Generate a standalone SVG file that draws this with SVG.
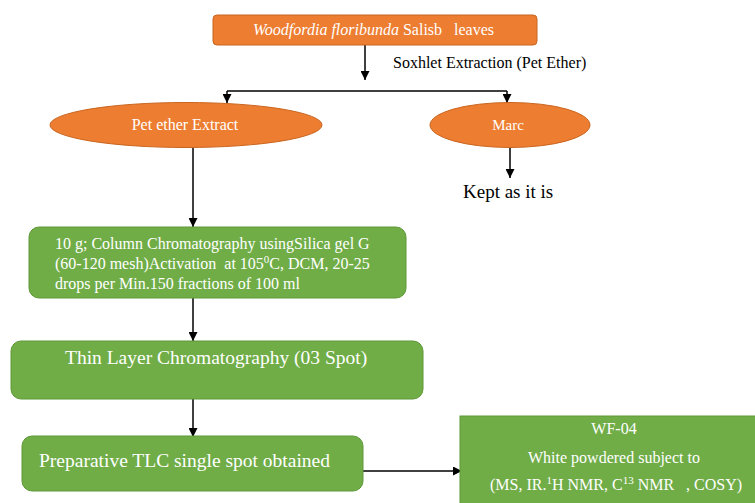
<svg xmlns="http://www.w3.org/2000/svg" width="755" height="503" viewBox="0 0 755 503">
<style>
.or{fill:#ED7D31;stroke:#C9651F;stroke-width:1}
.gr{fill:#70AD47;stroke:#5E9838;stroke-width:1}
.wt{fill:#FFFFFF;font-family:"Liberation Serif","Times New Roman",serif}
.bk{fill:#000000;font-family:"Liberation Serif","Times New Roman",serif}
.ln{stroke:#000;stroke-width:1.5;fill:none}
</style>
<defs>
<marker id="ahb" viewBox="0 0 10 10" refX="10" refY="5" markerWidth="9" markerHeight="9" markerUnits="userSpaceOnUse" orient="auto">
<path d="M0,0 L10,5 L0,10 z" fill="#000"/>
</marker>
</defs>
<rect width="755" height="503" fill="#FFFFFF"/>
<g id="connectors">
<path class="ln" d="M365,45 V80" marker-end="url(#ahb)"/>
<path class="ln" d="M227,91 H507"/>
<path class="ln" d="M227,91 V103" marker-end="url(#ahb)"/>
<path class="ln" d="M507,91 V103" marker-end="url(#ahb)"/>
<path class="ln" d="M510,148 V178" marker-end="url(#ahb)"/>
<path class="ln" d="M193,148 V227" marker-end="url(#ahb)"/>
<path class="ln" d="M193,298 V341" marker-end="url(#ahb)"/>
<path class="ln" d="M193,399 V437" marker-end="url(#ahb)"/>
<path class="ln" d="M363,471 H462" marker-end="url(#ahb)"/>
<text class="bk" x="393" y="68" font-size="16">Soxhlet Extraction (Pet Ether)</text>
</g>
<g id="n-leaves">
<rect class="or" x="213" y="15" width="324" height="30" rx="4"/>
<text class="wt" x="253" y="35" font-size="16" xml:space="preserve"><tspan font-style="italic">Woodfordia floribunda</tspan> Salisb   leaves</text>
</g>
<g id="n-pet">
<ellipse class="or" cx="186" cy="125" rx="136" ry="22.5"/>
<text class="wt" x="185" y="130" font-size="16" text-anchor="middle">Pet ether Extract</text>
</g>
<g id="n-marc">
<ellipse class="or" cx="510" cy="125" rx="80" ry="22.5"/>
<text class="wt" x="508" y="130" font-size="15" text-anchor="middle">Marc</text>
</g>
<g id="n-kept">
<text class="bk" x="463" y="198" font-size="19">Kept as it is</text>
</g>
<g id="n-column">
<rect class="gr" x="29" y="227" width="377" height="71" rx="10"/>
<text class="wt" font-size="16" xml:space="preserve"><tspan x="55" y="249">10 g; Column Chromatography usingSilica gel G</tspan><tspan x="55" y="269">(60-120 mesh)Activation  at 105</tspan><tspan font-size="11" dy="-6">0</tspan><tspan dy="6">C, DCM, 20-25</tspan><tspan x="55" y="289">drops per Min.150 fractions of 100 ml</tspan></text>
</g>
<g id="n-tlc">
<rect class="gr" x="11" y="341" width="412" height="58" rx="10"/>
<text class="wt" x="65" y="364" font-size="19.5">Thin Layer Chromatography (03 Spot)</text>
</g>
<g id="n-prep">
<rect class="gr" x="22" y="436" width="341" height="55" rx="10"/>
<text class="wt" x="39" y="467" font-size="19.5">Preparative TLC single spot obtained</text>
</g>
<g id="n-wf04">
<rect class="gr" x="460" y="416" width="310" height="95"/>
<text class="wt" x="614" y="434" font-size="16" text-anchor="middle">WF-04</text>
<text class="wt" x="614" y="463" font-size="16" text-anchor="middle">White powdered subject to</text>
<text class="wt" x="490" y="490" font-size="16" xml:space="preserve">(MS, IR.<tspan font-size="11" dy="-6">1</tspan><tspan dy="6">H NMR, C</tspan><tspan font-size="11" dy="-6">13</tspan><tspan dy="6"> NMR   , COSY)</tspan></text>
</g>
</svg>
